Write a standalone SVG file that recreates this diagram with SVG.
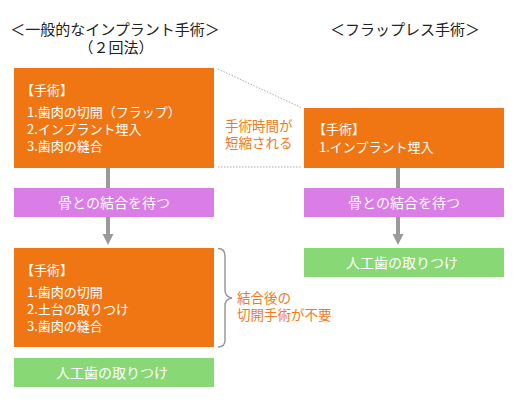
<svg xmlns="http://www.w3.org/2000/svg" width="520" height="400" viewBox="0 0 520 400">
<defs>
<style>
text{font-family:"Noto Sans CJK JP","Noto Sans",sans-serif;}
.title{font-size:15px;fill:#222;text-anchor:middle;}
.op{fill:#f07613;}
.wait{fill:#da7de6;}
.fix{fill:#88d876;}
.wt{fill:#ffffff;font-size:13px;}
.wc{fill:#ffffff;font-size:14px;text-anchor:middle;}
.note{fill:#f07a20;font-size:13.5px;}
.shaft{stroke:#9a9a9a;stroke-width:4;fill:none;}
.dot{stroke:#aaaaaa;stroke-width:1;stroke-dasharray:1.5 1.5;fill:none;}
</style>
<marker id="ah" markerWidth="11" markerHeight="10" refX="5.5" refY="0" viewBox="0 0 11 10" markerUnits="userSpaceOnUse" orient="auto-start-reverse">
<path d="M0 0 L11 0 L5.5 10 Z" fill="#9a9a9a"/>
</marker>
</defs>
<rect width="520" height="400" fill="#ffffff"/>

<g id="titles">
<text class="title" x="115" y="35">＜一般的なインプラント手術＞</text>
<text class="title" x="116" y="53">（２回法）</text>
<text class="title" x="405" y="35">＜フラップレス手術＞</text>
</g>

<g id="connectors">
<line class="shaft" x1="108" y1="168" x2="108" y2="188"/>
<line class="shaft" x1="108" y1="217" x2="108" y2="234"/>
<path d="M102.5 234 L113.5 234 L108 245 Z" fill="#9a9a9a"/>
<line class="shaft" x1="398" y1="168" x2="398" y2="188"/>
<line class="shaft" x1="398" y1="217" x2="398" y2="234"/>
<path d="M392.5 234 L403.5 234 L398 245 Z" fill="#9a9a9a"/>
<line class="dot" x1="218" y1="69" x2="302" y2="108"/>
<line class="dot" x1="218" y1="167" x2="302" y2="167"/>
<path d="M218 248.5 Q225 248.5 225 256 L225 290 Q225 297 232 298 Q225 299 225 306 L225 340 Q225 347 218 347" stroke="#9a9a9a" stroke-width="1.5" fill="none"/>
</g>

<g id="left-op1">
<rect class="op" x="14" y="68" width="200" height="100"/>
<text class="wt" x="21" y="95">【手術】</text>
<text class="wt" x="27" y="117">1.歯肉の切開（フラップ）</text>
<text class="wt" x="27" y="134">2.インプラント埋入</text>
<text class="wt" x="27" y="151">3.歯肉の縫合</text>
</g>

<g id="left-wait">
<rect class="wait" x="14" y="188" width="200" height="29"/>
<text class="wc" x="114" y="208">骨との結合を待つ</text>
</g>

<g id="left-op2">
<rect class="op" x="14" y="248" width="200" height="99"/>
<text class="wt" x="21" y="275">【手術】</text>
<text class="wt" x="27" y="297">1.歯肉の切開</text>
<text class="wt" x="27" y="314">2.土台の取りつけ</text>
<text class="wt" x="27" y="331">3.歯肉の縫合</text>
</g>

<g id="left-fix">
<rect class="fix" x="14" y="358" width="200" height="29"/>
<text class="wc" x="112" y="378">人工歯の取りつけ</text>
</g>

<g id="right-op">
<rect class="op" x="304" y="108" width="200" height="60"/>
<text class="wt" x="313" y="134">【手術】</text>
<text class="wt" x="319" y="152">1.インプラント埋入</text>
</g>

<g id="right-wait">
<rect class="wait" x="304" y="188" width="200" height="29"/>
<text class="wc" x="404" y="208">骨との結合を待つ</text>
</g>

<g id="right-fix">
<rect class="fix" x="304" y="248" width="200" height="29"/>
<text class="wc" x="402" y="268">人工歯の取りつけ</text>
</g>

<g id="notes">
<text class="note" x="225" y="131">手術時間が</text>
<text class="note" x="225" y="148">短縮される</text>
<text class="note" x="237" y="303">結合後の</text>
<text class="note" x="237" y="320">切開手術が不要</text>
</g>
</svg>
